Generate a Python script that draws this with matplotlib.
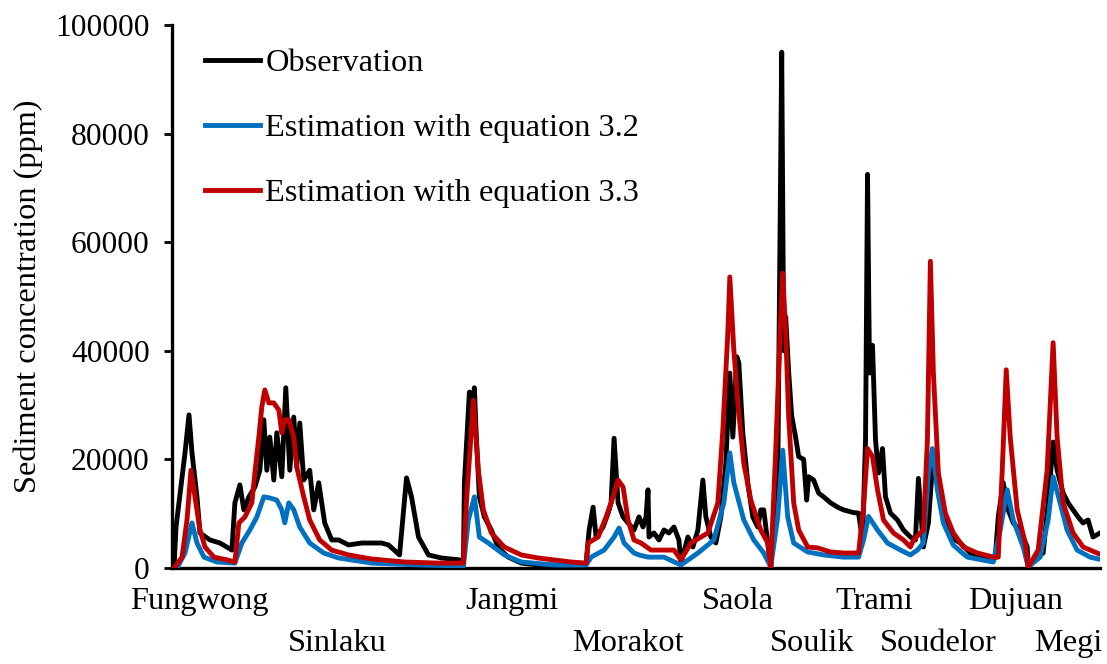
import matplotlib.pyplot as plt
from matplotlib.transforms import blended_transform_factory

# time index (hours, concatenated events) and sediment concentration (ppm)
obs_hour = [2, 4, 13, 17, 20, 25, 28, 38, 48, 60, 63, 68, 72, 77, 83, 88, 92, 95, 98, 102,
            105, 110, 114, 118, 122, 125, 128, 132, 138, 142, 147, 150, 153, 160, 167, 177,
            190, 210, 217, 228, 235, 240, 247, 257, 270, 288, 292, 293, 298, 301, 303, 305,
            308, 313, 320, 327, 337, 350, 367, 400, 415, 418, 422, 425, 432, 437, 440, 443,
            447, 452, 457, 463, 468, 472, 475, 477, 478, 483, 488, 493, 498, 503, 508, 510,
            517, 522, 527, 532, 535, 540, 545, 550, 555, 559, 562, 566, 568, 572, 577, 582,
            587, 590, 593, 597, 600, 607, 611, 613, 615, 618, 621, 625, 628, 633, 636, 638,
            643, 648, 653, 660, 667, 673, 683, 688, 692, 695, 697, 699, 702, 705, 708, 712,
            715, 720, 727, 733, 740, 745, 748, 751, 753, 758, 762, 767, 773, 780, 790, 800,
            813, 825, 828, 833, 838, 843, 850, 857, 858, 867, 873, 878, 883, 887, 893, 898,
            903, 908, 913, 918, 923, 930]
obs_ppm = [0, 7500, 21200, 28200, 21200, 13100, 6450, 5160, 4600, 3300, 12000, 15300, 10700,
           13100, 14900, 18000, 27300, 18000, 24100, 16200, 24900, 16800, 33200, 18000, 27800,
           18600, 26700, 16200, 18000, 10700, 15700, 12000, 8300, 5160, 5160, 4240, 4600, 4600,
           4240, 2400, 16600, 13100, 5700, 2400, 1840, 1500, 550, 15700, 32400, 30400, 33200,
           24000, 13100, 9400, 7000, 3700, 2000, 900, 550, 550, 900, 7000, 11200, 5700, 7550,
           10100, 12000, 23900, 12000, 9400, 8300, 7000, 9400, 7550, 9400, 14400, 5700, 6450,
           5160, 7000, 6450, 7550, 5160, 900, 5700, 3870, 7000, 16200, 9400, 5700, 4600, 9400,
           19300, 35900, 24100, 38900, 37800, 24900, 15700, 9400, 7550, 10700, 10700, 4600, 200,
           15700, 95000, 40000, 46200, 36000, 28000, 24000, 20500, 20000, 12500, 16800, 16200,
           13800, 13100, 12000, 11200, 10700, 10200, 10100, 5160, 23600, 72500, 35900, 41000,
           23600, 17500, 22000, 13100, 10100, 8840, 7000, 5700, 5160, 16500, 8840, 3870, 8300,
           18600, 15700, 10100, 5700, 4600, 2760, 2000, 1840, 9400, 15700, 10700, 8300, 7000,
           3870, 200, 2000, 2760, 12000, 23200, 18000, 13800, 12000, 10700, 9400, 8300, 8840,
           5700, 6450]

eq32_hour = [5, 13, 20, 25, 32, 45, 63, 70, 78, 85, 92, 98, 105, 110, 113, 117, 122, 128,
             138, 152, 167, 200, 250, 292, 297, 303, 308, 317, 333, 350, 383, 415, 420, 433,
             443, 448, 453, 463, 468, 477, 493, 510, 527, 543, 553, 559, 563, 573, 583, 593,
             600, 607, 612, 617, 623, 637, 653, 673, 688, 693, 698, 707, 717, 730, 740, 747,
             753, 758, 762, 767, 773, 783, 797, 823, 830, 837, 843, 853, 858, 870, 878, 883,
             890, 897, 907, 920, 932]
eq32_ppm = [0, 2760, 8300, 4600, 2000, 1100, 900, 4600, 7000, 9400, 13100, 12900, 12500,
            10700, 8300, 12000, 10700, 7550, 4600, 2760, 1840, 900, 550, 370, 8840, 13100,
            5700, 4600, 2400, 1100, 550, 550, 2000, 3300, 5700, 7370, 4600, 2760, 2400, 2000,
            2000, 550, 2760, 5160, 12000, 21200, 15700, 8840, 5160, 2760, 200, 9400, 21700,
            9400, 4600, 2950, 2400, 2000, 2000, 5160, 9500, 7000, 4600, 3300, 2400, 3300, 4600,
            17500, 22000, 14400, 8300, 4200, 2000, 1100, 7000, 14400, 8840, 3870, 200, 2000,
            8840, 16800, 12000, 7000, 3300, 2000, 1500]

eq33_hour = [3, 10, 15, 19, 23, 28, 33, 42, 55, 63, 67, 73, 80, 83, 87, 90, 93, 97, 102, 107,
             110, 113, 117, 122, 125, 132, 138, 148, 160, 177, 200, 233, 267, 292, 295, 302,
             307, 312, 320, 333, 350, 367, 400, 415, 417, 427, 435, 440, 447, 452, 457, 463,
             470, 480, 503, 510, 520, 537, 547, 552, 557, 559, 563, 567, 573, 580, 590, 597,
             600, 605, 610, 612, 615, 618, 623, 628, 637, 647, 660, 673, 688, 693, 697, 702,
             707, 713, 723, 733, 740, 743, 753, 757, 760, 763, 768, 775, 783, 793, 807, 823,
             828, 832, 836, 840, 847, 855, 858, 868, 877, 883, 887, 893, 903, 913, 927, 932]
eq33_ppm = [200, 2000, 8840, 18000, 13100, 7000, 3870, 2000, 1500, 1100, 8300, 9400, 12000,
            17500, 24100, 29700, 32800, 30400, 30400, 29100, 24900, 27300, 27300, 24100, 18600,
            13100, 8840, 5160, 3300, 2400, 1660, 1100, 900, 900, 12000, 30900, 18000, 10700,
            6450, 3870, 2400, 1840, 1100, 900, 4600, 5700, 9400, 12000, 16200, 14900, 8840,
            5160, 4600, 3300, 3300, 1500, 4600, 6450, 12000, 25400, 43300, 53600, 40200, 30400,
            19300, 12500, 7000, 4600, 200, 21700, 46200, 54300, 43300, 27800, 12000, 7000, 3870,
            3700, 2950, 2760, 2760, 11200, 22000, 20500, 14400, 8840, 6450, 5160, 3870, 5160,
            7000, 23600, 56500, 35900, 17500, 10100, 6450, 3870, 2760, 2000, 2000, 18000, 36500,
            24100, 10700, 4600, 200, 3300, 18000, 41500, 24100, 12000, 6450, 3870, 2760, 2400]

event_names = ["Fungwong", "Sinlaku", "Jangmi", "Morakot", "Saola",
               "Soulik", "Trami", "Soudelor", "Dujuan", "Megi"]
event_hour = [27, 166, 341, 457, 567, 641, 704, 768, 845, 898]

plt.rcParams["font.family"] = ["Liberation Serif", "DejaVu Serif"]
FS = 23.3

fig = plt.figure(figsize=(11.07, 6.64), dpi=100)
ax = fig.add_axes([0.1554, 0.1446, 0.8383, 0.8177])

ax.plot(obs_hour, obs_ppm, color="black", lw=3.5, label="Observation", zorder=3)
ax.plot(eq32_hour, eq32_ppm, color="#0070C0", lw=3.5, label="Estimation with equation 3.2", zorder=4)
ax.plot(eq33_hour, eq33_ppm, color="#C00000", lw=3.5, label="Estimation with equation 3.3", zorder=5)

ax.set_xlim(0, 930)
ax.set_ylim(0, 100000)
ax.set_yticks(range(0, 100001, 20000))
ax.set_yticklabels([str(v) for v in range(0, 100001, 20000)])
ax.set_xticks([])
ax.tick_params(axis="y", labelsize=22.7, length=6, width=2, direction="out", pad=10)
ax.set_ylabel("Sediment concentration (ppm)", fontsize=FS, labelpad=9)

for side in ["top", "right"]:
    ax.spines[side].set_visible(False)
for side in ["left", "bottom"]:
    ax.spines[side].set_linewidth(2.4)

trans = blended_transform_factory(ax.transData, ax.transAxes)
for i, (name, hour) in enumerate(zip(event_names, event_hour)):
    ypos = -0.075 if i % 2 == 0 else -0.152
    ax.text(hour, ypos, name, transform=trans, ha="center", va="baseline", fontsize=FS)

ax.legend(loc="upper left", bbox_to_anchor=(0.036, 0.957), frameon=False, fontsize=FS,
          handlelength=1.7, handletextpad=0.15, labelspacing=1.09, borderpad=0, borderaxespad=0)

fig.savefig("out.png", dpi=100)
